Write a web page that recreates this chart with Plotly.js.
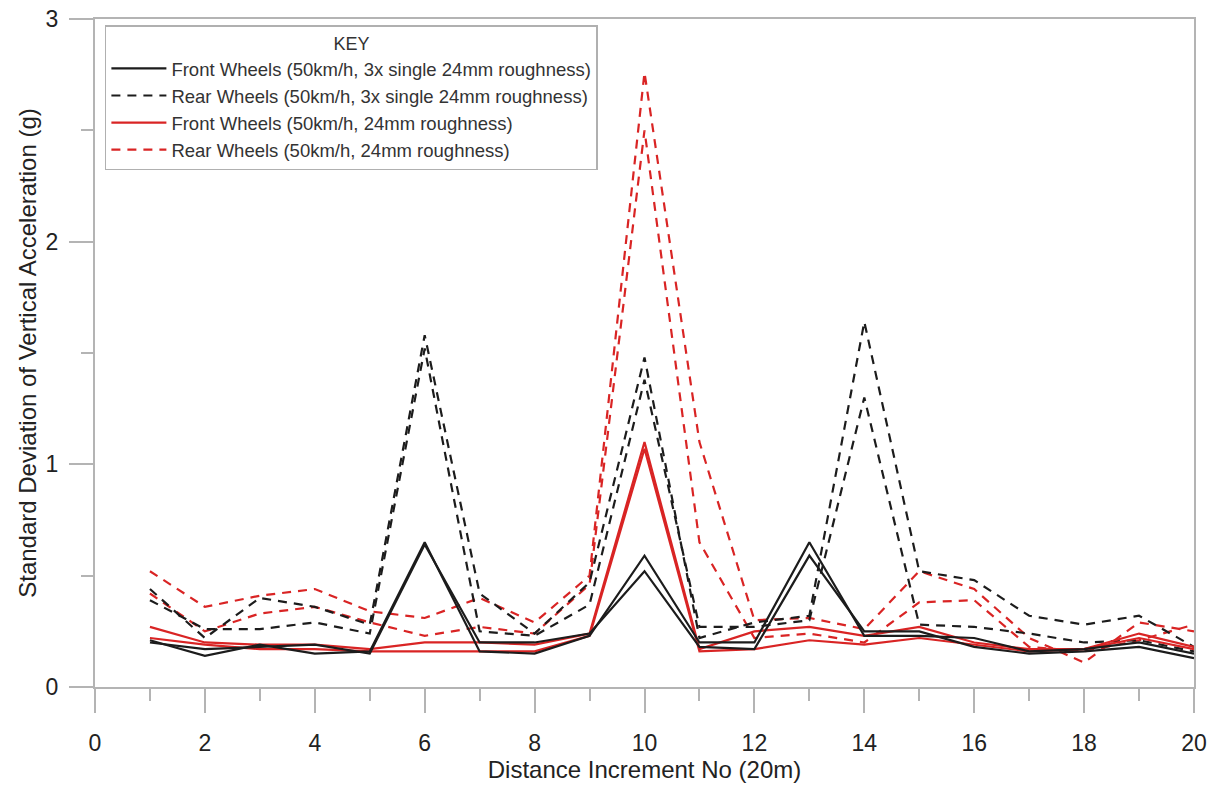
<!DOCTYPE html>
<html>
<head>
<meta charset="utf-8">
<script src="https://cdn.plot.ly/plotly-3.0.1.min.js"></script>
<style>html,body{margin:0;padding:0;background:#fff;}#chart{width:1214px;height:785px;}</style>
</head>
<body>
<div id="chart"></div>
<script>
const increments = [1,2,3,4,5,6,7,8,9,10,11,12,13,14,15,16,17,18,19,20];

const frontSingleA = [0.21,0.14,0.19,0.15,0.16,0.65,0.16,0.15,0.23,0.59,0.20,0.20,0.65,0.23,0.23,0.22,0.16,0.17,0.20,0.15];
const frontSingleB = [0.20,0.17,0.18,0.19,0.15,0.64,0.20,0.20,0.24,0.52,0.18,0.17,0.59,0.25,0.25,0.18,0.15,0.16,0.18,0.13];

const rearSingleA = [0.44,0.22,0.40,0.36,0.28,1.58,0.42,0.24,0.47,1.48,0.22,0.29,0.32,1.64,0.52,0.48,0.32,0.28,0.32,0.18];
const rearSingleB = [0.39,0.26,0.26,0.29,0.24,1.52,0.25,0.23,0.37,1.38,0.27,0.27,0.30,1.30,0.28,0.27,0.24,0.20,0.21,0.16];

const frontRoughA = [0.27,0.20,0.19,0.19,0.17,0.20,0.20,0.19,0.24,1.10,0.17,0.25,0.27,0.23,0.27,0.20,0.17,0.17,0.24,0.18];
const frontRoughB = [0.22,0.19,0.17,0.17,0.16,0.16,0.16,0.16,0.23,1.07,0.16,0.17,0.21,0.19,0.22,0.19,0.16,0.17,0.22,0.17];

const rearRoughA = [0.52,0.36,0.41,0.44,0.34,0.31,0.40,0.29,0.50,2.76,1.10,0.30,0.31,0.26,0.52,0.44,0.22,0.11,0.29,0.25];
const rearRoughB = [0.42,0.25,0.33,0.36,0.29,0.23,0.27,0.24,0.46,2.50,0.65,0.22,0.24,0.20,0.38,0.39,0.18,0.16,0.21,0.28];

const seriesNames = [
  "Front Wheels (50km/h, 3x single 24mm roughness)",
  "Rear Wheels (50km/h, 3x single 24mm roughness)",
  "Front Wheels (50km/h, 24mm roughness)",
  "Rear Wheels (50km/h, 24mm roughness)"
];

const xTickVals = [0,2,4,6,8,10,12,14,16,18,20];
const yTickVals = [0,1,2,3];

const BLACK = "#1c1c1c";
const RED = "#d92424";
const DASH = "9px,7px";

function mk(y, name, color, dash, show, group) {
  return {
    x: increments, y: y, type: "scatter", mode: "lines",
    name: name, legendgroup: group, showlegend: show,
    line: {color: color, width: 2.2, dash: dash},
    hoverinfo: "x+y"
  };
}

const traces = [
  mk(rearRoughA, seriesNames[3], RED, DASH, false, "g4"),
  mk(rearRoughB, seriesNames[3], RED, DASH, false, "g4"),
  mk(rearSingleA, seriesNames[1], BLACK, DASH, false, "g2"),
  mk(rearSingleB, seriesNames[1], BLACK, DASH, false, "g2"),
  mk(frontRoughA, seriesNames[2], RED, "solid", false, "g3"),
  mk(frontRoughB, seriesNames[2], RED, "solid", false, "g3"),
  mk(frontSingleA, seriesNames[0], BLACK, "solid", false, "g1"),
  mk(frontSingleB, seriesNames[0], BLACK, "solid", false, "g1"),
  Object.assign(mk([null], seriesNames[0], BLACK, "solid", true, "g1"), {x:[null]}),
  Object.assign(mk([null], seriesNames[1], BLACK, DASH, true, "g2"), {x:[null]}),
  Object.assign(mk([null], seriesNames[2], RED, "solid", true, "g3"), {x:[null]}),
  Object.assign(mk([null], seriesNames[3], RED, DASH, true, "g4"), {x:[null]})
];

const axisColor = "#b4b4b4";
const layout = {
  width: 1214, height: 785,
  margin: {l: 95, r: 20, t: 19, b: 98},
  paper_bgcolor: "#ffffff", plot_bgcolor: "#ffffff",
  font: {family: "Liberation Sans, Arial, sans-serif", color: "#222"},
  showlegend: true,
  legend: {
    x: 0.009, y: 0.991, xanchor: "left", yanchor: "top",
    bgcolor: "#ffffff", bordercolor: "#b0b0b0", borderwidth: 1.5,
    font: {size: 18.5, color: "#333"},
    title: {text: "KEY", side: "top center", font: {size: 18, color: "#333"}},
    traceorder: "normal", tracegroupgap: 0, itemwidth: 55
  },
  xaxis: {
    range: [0, 20], showgrid: false, zeroline: false,
    showline: true, linecolor: axisColor, linewidth: 2, mirror: true,
    ticks: "outside", ticklen: 24, tickwidth: 2, tickcolor: axisColor,
    tickmode: "array", tickvals: xTickVals, ticktext: xTickVals.map(String),
    ticklabelstandoff: 10,
    tickfont: {size: 23, color: "#222"},
    minor: {dtick: 1, tick0: 0, ticks: "outside", ticklen: 12, tickwidth: 2, tickcolor: axisColor, showgrid: false},
    title: {text: "Distance Increment No (20m)", font: {size: 24, color: "#222"}, standoff: 4}
  },
  yaxis: {
    range: [0, 3], showgrid: false, zeroline: false,
    showline: true, linecolor: axisColor, linewidth: 2, mirror: true,
    ticks: "outside", ticklen: 24, tickwidth: 2, tickcolor: axisColor,
    tickmode: "array", tickvals: yTickVals, ticktext: yTickVals.map(String),
    ticklabelstandoff: 6,
    tickfont: {size: 23, color: "#222"},
    minor: {dtick: 0.5, tick0: 0, ticks: "outside", ticklen: 12, tickwidth: 2, tickcolor: axisColor, showgrid: false},
    title: {text: "Standard Deviation of Vertical Acceleration (g)", font: {size: 24, color: "#222"}, standoff: 2}
  }
};

Plotly.newPlot("chart", traces, layout, {displayModeBar: false, staticPlot: true});
</script>
</body>
</html>
